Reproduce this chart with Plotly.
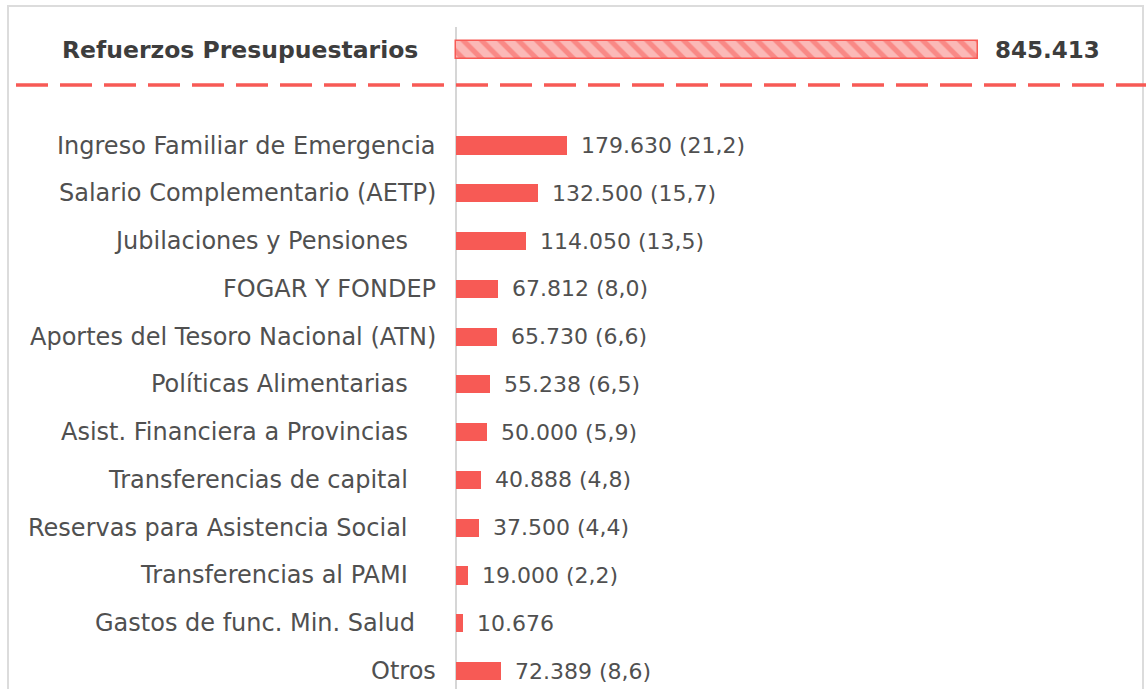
import plotly.graph_objects as go

# ---- data ----
total_label = "Refuerzos Presupuestarios"
total_value = 845413

categories = [
    "Ingreso Familiar de Emergencia",
    "Salario Complementario (AETP)",
    "Jubilaciones y Pensiones",
    "FOGAR Y FONDEP",
    "Aportes del Tesoro Nacional (ATN)",
    "Políticas Alimentarias",
    "Asist. Financiera a Provincias",
    "Transferencias de capital",
    "Reservas para Asistencia Social",
    "Transferencias al PAMI",
    "Gastos de func. Min. Salud",
    "Otros",
]
values = [179630, 132500, 114050, 67812, 65730, 55238, 50000, 40888, 37500, 19000, 10676, 72389]
shares = ["21,2", "15,7", "13,5", "8,0", "6,6", "6,5", "5,9", "4,8", "4,4", "2,2", None, "8,6"]

# label right-padding (px) as in the original layout
label_pad = [18, 18, 46, 18, 18, 46, 46, 46, 46, 46, 39, 18]

RED = "#f75a55"
TXT = "#505050"
FONT = "DejaVu Sans"

W, H = 1146, 689
X0PX = 456            # pixel where value 0 sits
PXU = 522 / total_value  # pixels per unit
xr = [-X0PX / PXU, (W - X0PX) / PXU]

pitch = (671 - 50) / 13
yr = [13 + (H - 671) / pitch, -50 / pitch]


def fmt(v):
    return f"{v:,}".replace(",", ".")


ypos = list(range(2, 2 + len(categories)))

fig = go.Figure()
fig.add_trace(go.Bar(
    x=[total_value], y=[0], orientation="h", width=0.38,
    marker=dict(color="#fbb9b7", line=dict(color=RED, width=1.5),
                pattern=dict(shape="\\", fgcolor=RED, bgcolor="#fbb9b7", size=13, solidity=0.4)),
    hoverinfo="skip", showlegend=False,
))
fig.add_trace(go.Bar(
    x=values, y=ypos, orientation="h", width=0.38,
    marker=dict(color=RED, line=dict(width=0)),
    hoverinfo="skip", showlegend=False,
))

annotations = []
# title row
annotations.append(dict(x=0, y=0, xref="x", yref="y", text=f"<b>{total_label}</b>",
                        showarrow=False, xanchor="right", xshift=-36,
                        font=dict(family=FONT, size=23.5, color="#3d3d3d")))
annotations.append(dict(x=total_value, y=0, xref="x", yref="y", text=f"<b>{fmt(total_value)}</b>",
                        showarrow=False, xanchor="left", xshift=15,
                        font=dict(family=FONT, size=23, color="#3d3d3d")))
for c, v, s, p, y in zip(categories, values, shares, label_pad, ypos):
    annotations.append(dict(x=0, y=y, xref="x", yref="y", text=c, showarrow=False,
                            xanchor="right", xshift=-p,
                            font=dict(family=FONT, size=24, color=TXT)))
    t = fmt(v) + (f" ({s})" if s else "")
    annotations.append(dict(x=v, y=y, xref="x", yref="y", text=t, showarrow=False,
                            xanchor="left", xshift=12,
                            font=dict(family=FONT, size=22, color=TXT)))

shapes = [
    # outer frame
    dict(type="rect", xref="paper", yref="paper", x0=8 / W, x1=1143 / W, y0=-0.05, y1=1 - 6 / H,
         line=dict(color="#dcdcdc", width=2), fillcolor="rgba(0,0,0,0)", layer="below"),
    # vertical axis line
    dict(type="line", xref="x", yref="paper", x0=0, x1=0, y0=0, y1=1 - 27 / H,
         line=dict(color="#d6d6d6", width=2), layer="below"),
    # dashed separator
    dict(type="line", xref="paper", yref="y", x0=16 / W, x1=1, y0=35 / pitch, y1=35 / pitch,
         line=dict(color=RED, width=3.5, dash="32px,12px")),
]

fig.update_layout(
    width=W, height=H, margin=dict(l=0, r=0, t=0, b=0),
    paper_bgcolor="white", plot_bgcolor="white",
    xaxis=dict(range=xr, visible=False, fixedrange=True),
    yaxis=dict(range=yr, visible=False, fixedrange=True),
    annotations=annotations, shapes=shapes, bargap=0,
)

fig.write_html("out.html", config={"displayModeBar": False},
               post_script="document.body.style.margin='0';document.body.style.overflow='hidden';")
